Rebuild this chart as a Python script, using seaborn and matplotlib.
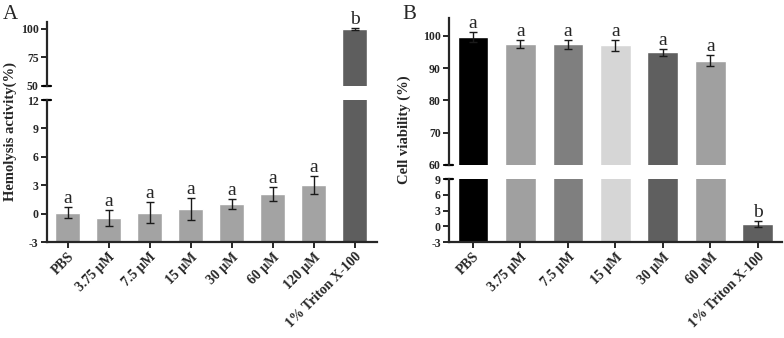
import matplotlib
matplotlib.use("Agg")
import matplotlib.pyplot as plt
import seaborn as sns
import numpy as np
import pandas as pd

# ---- data ----
cats_a = ["PBS", "3.75 μM", "7.5 μM", "15 μM", "30 μM", "60 μM", "120 μM", "1% Triton X-100"]
vals_a = [0.1, -0.5, 0.1, 0.5, 1.0, 2.1, 3.0, 99.8]
errs_a = [0.6, 0.85, 1.1, 1.2, 0.5, 0.75, 0.95, 0.5]
sig_a = ["a", "a", "a", "a", "a", "a", "a", "b"]
colors_a = ["#a3a3a3"] * 7 + ["#5e5e5e"]

cats_b = ["PBS", "3.75 μM", "7.5 μM", "15 μM", "30 μM", "60 μM", "1% Triton X-100"]
vals_b = [99.7, 97.5, 97.3, 97.0, 94.8, 92.3, 0.5]
errs_b = [1.5, 1.3, 1.3, 1.8, 1.0, 1.8, 0.6]
sig_b = ["a", "a", "a", "a", "a", "a", "b"]
colors_b = ["#000000", "#a0a0a0", "#7f7f7f", "#d6d6d6", "#5f5f5f", "#a0a0a0", "#5f5f5f"]

sns.set_theme(style="ticks")
plt.rcParams["font.family"] = ["Liberation Serif", "DejaVu Serif"]

fig = plt.figure(figsize=(7.84, 3.38), dpi=100)

def panel(cats, vals, errs, sig, colors, low_lim, high_lim, low_ticks, high_ticks,
          left, width, low_rect, high_rect, width_bar, xmax):
    df = pd.DataFrame({"cat": cats, "val": vals})
    ax_lo = fig.add_axes([left, low_rect[0], width, low_rect[1]])
    ax_hi = fig.add_axes([left, high_rect[0], width, high_rect[1]])
    pal = dict(zip(cats, colors))
    base = low_lim[0]
    for ax in (ax_lo, ax_hi):
        sns.barplot(data=df, x="cat", y="val", hue="cat", palette=pal, order=cats,
                    hue_order=cats, legend=False, errorbar=None, saturation=1,
                    width=width_bar, ax=ax)
        # bars rise from the axis floor (GraphPad style)
        for p in ax.patches:
            top = p.get_y() + p.get_height()
            p.set_y(base)
            p.set_height(top - base)
        ax.errorbar(np.arange(len(cats)), vals, yerr=errs, fmt="none",
                    ecolor="#1a1a1a", elinewidth=1.0, capsize=3.2, capthick=1.0)
        ax.set_xlim(-0.5, xmax)
        ax.set_xlabel("")
        ax.set_ylabel("")
        for s in ("top", "right"):
            ax.spines[s].set_visible(False)
        ax.spines["left"].set_linewidth(1.6)
        ax.spines["bottom"].set_linewidth(1.6)
        ax.tick_params(axis="y", length=4, width=1.4, pad=2)
        ax.set_facecolor("none")
    ax_lo.set_ylim(*low_lim)
    ax_lo.set_yticks(low_ticks)
    ax_hi.set_ylim(*high_lim)
    ax_hi.set_yticks(high_ticks)
    for ax in (ax_lo, ax_hi):
        ax.set_yticklabels([str(t) for t in ax.get_yticks().astype(int)],
                           fontsize=8.5, fontweight="bold")
    ax_hi.spines["bottom"].set_visible(False)
    ax_hi.tick_params(axis="x", bottom=False, labelbottom=False)
    ax_lo.tick_params(axis="x", length=4, width=1.4, pad=2)
    ax_lo.set_xticks(np.arange(len(cats)))
    ax_lo.set_xticklabels(cats, rotation=45, ha="right", rotation_mode="anchor",
                          fontsize=10, fontweight="bold")
    # significance letters
    for i, (v, e, s) in enumerate(zip(vals, errs, sig)):
        ax = ax_hi if v > high_lim[0] else ax_lo
        ax.annotate(s, (i, v + e), xytext=(0, 0), textcoords="offset points",
                    ha="center", va="bottom", fontsize=14, annotation_clip=False)
    # break marks
    for ax, y in ((ax_hi, 0), (ax_lo, 1)):
        ax.plot([-0.012, 0.012], [y, y], transform=ax.transAxes, color="black",
                lw=1.6, clip_on=False)
    return ax_lo, ax_hi

panel(cats_a, vals_a, errs_a, sig_a, colors_a, (-3, 12), (50, 106),
      [-3, 0, 3, 6, 9, 12], [50, 75, 100],
      0.060, 0.421, (0.284, 0.420), (0.746, 0.189), 0.59, 7.55)
panel(cats_b, vals_b, errs_b, sig_b, colors_b, (-3, 9), (60, 105.5),
      [-3, 0, 3, 6, 9], [60, 70, 80, 90, 100],
      0.573, 0.424, (0.284, 0.186), (0.512, 0.435), 0.65, 6.5)

fig.text(0.013, 0.61, "Hemolysis activity(%)", rotation=90, ha="center", va="center",
         fontsize=10.5, fontweight="bold")
fig.text(0.516, 0.615, "Cell viability (%)", rotation=90, ha="center", va="center",
         fontsize=10.5, fontweight="bold")
fig.text(0.003, 0.985, "A", ha="left", va="top", fontsize=15)
fig.text(0.513, 0.985, "B", ha="left", va="top", fontsize=15)

fig.savefig("out.png", dpi=100)
